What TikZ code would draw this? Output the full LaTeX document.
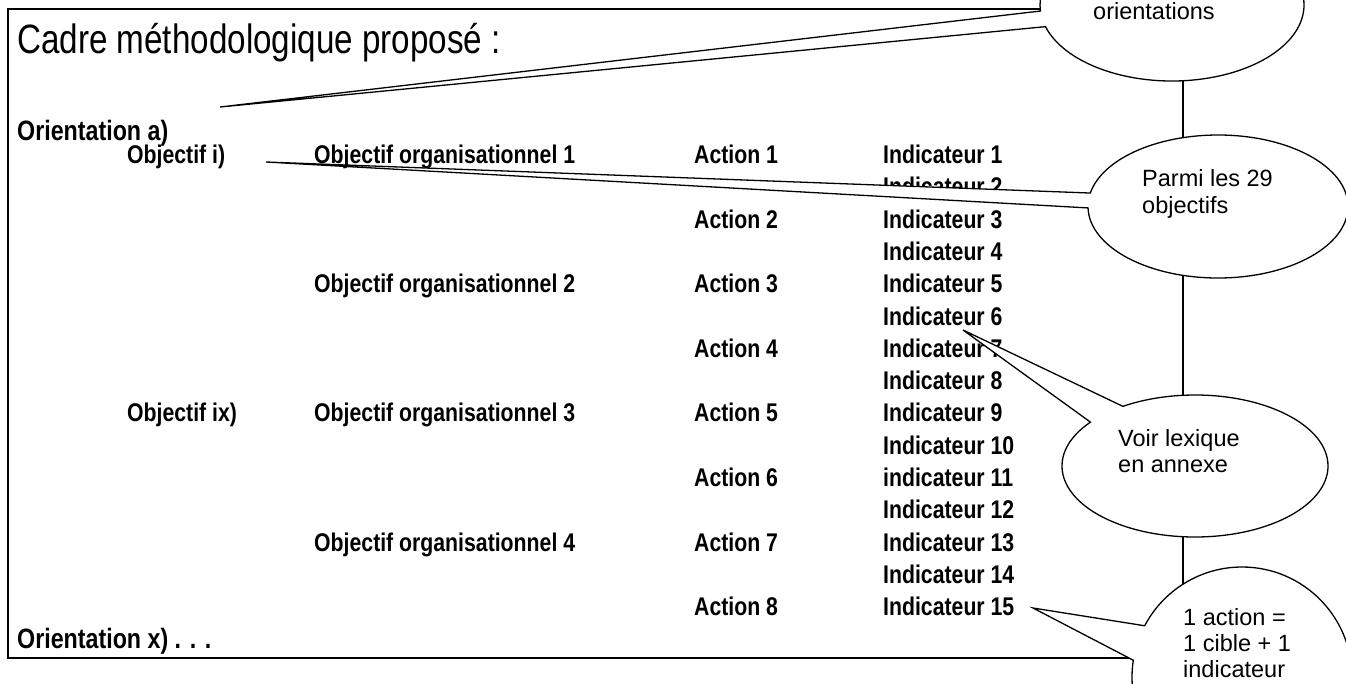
\documentclass[tikz,border=0pt]{standalone}
\usepackage{fontspec}
\setmainfont{Liberation Sans}
\newfontfamily\bodyfont[FakeStretch=0.83]{Liberation Sans}
\newfontfamily\headfont[FakeStretch=0.81]{Liberation Sans}
\usetikzlibrary{shapes.callouts}
\tikzset{
  lbl/.style={font=\bodyfont\bfseries\fontsize{25.6}{30}\selectfont, inner sep=0pt, anchor=base west},
  orient/.style={lbl, font=\bodyfont\bfseries\fontsize{28}{33}\selectfont},
  bubble/.style={ellipse callout, draw=black, line width=1.3pt, fill=white, inner sep=0pt},
  btext/.style={font=\fontsize{23.5}{27}\selectfont, inner sep=0pt, anchor=base west},
  frameline/.style={line width=2pt}
}
\begin{document}
\begin{tikzpicture}[x=1pt,y=-1pt]
\clip (0,0) rectangle (1346,683);
\fill[white] (0,0) rectangle (1346,683);
% frame
\coordinate (fTL) at (8,9);
\coordinate (fBR) at (1183,658);
\draw[frameline] (fTL) rectangle (fBR);
% title
\node[anchor=base west, inner sep=0pt, font=\headfont\fontsize{41}{48}\selectfont] (title) at (17,53) {Cadre méthodologique proposé :};
% orientations
\node[orient] (ora) at (17,140) {Orientation a)};
\node[orient] (orx) at (17,648) {Orientation x) . . .};
% objectifs
\node[lbl] (obi) at (127,163.5) {Objectif i)};
\node[lbl] (obix) at (127,421.9) {Objectif ix)};
% objectifs organisationnels
\node[lbl] (oo1) at (314,163.5) {Objectif organisationnel 1};
\node[lbl] (oo2) at (314,292.7) {Objectif organisationnel 2};
\node[lbl] (oo3) at (314,421.9) {Objectif organisationnel 3};
\node[lbl] (oo4) at (314,551.1) {Objectif organisationnel 4};
% actions
\node[lbl] (a1) at (694,163.5) {Action 1};
\node[lbl] (a2) at (694,228.1) {Action 2};
\node[lbl] (a3) at (694,292.7) {Action 3};
\node[lbl] (a4) at (694,357.3) {Action 4};
\node[lbl] (a5) at (694,421.9) {Action 5};
\node[lbl] (a6) at (694,486.5) {Action 6};
\node[lbl] (a7) at (694,551.1) {Action 7};
\node[lbl] (a8) at (694,615.7) {Action 8};
% indicateurs
\node[lbl] (i1) at (883,163.5) {Indicateur 1};
\node[lbl] (i2) at (883,195.8) {Indicateur 2};
\node[lbl] (i3) at (883,228.1) {Indicateur 3};
\node[lbl] (i4) at (883,260.4) {Indicateur 4};
\node[lbl] (i5) at (883,292.7) {Indicateur 5};
\node[lbl] (i6) at (883,325.0) {Indicateur 6};
\node[lbl] (i7) at (883,357.3) {Indicateur 7};
\node[lbl] (i8) at (883,389.6) {Indicateur 8};
\node[lbl] (i9) at (883,421.9) {Indicateur 9};
\node[lbl] (i10) at (883,454.2) {Indicateur 10};
\node[lbl] (i11) at (883,486.5) {indicateur 11};
\node[lbl] (i12) at (883,518.8) {Indicateur 12};
\node[lbl] (i13) at (883,551.1) {Indicateur 13};
\node[lbl] (i14) at (883,583.4) {Indicateur 14};
\node[lbl] (i15) at (883,615.7) {Indicateur 15};
% callout tips
\coordinate (t1) at (220,107);
\coordinate (t2) at (266,162);
\coordinate (t3) at (963,330);
\coordinate (t4) at (1033,608);
% callouts
\node[bubble, minimum width=264pt, minimum height=152pt, callout absolute pointer={(t1)}, callout pointer arc=12] (c1) at (1172,5) {};
\node[bubble, minimum width=260pt, minimum height=143pt, callout absolute pointer={(t2)}, callout pointer arc=12] (c2) at (1218,206.5) {};
\node[bubble, minimum width=266pt, minimum height=142pt, callout absolute pointer={(t3)}, callout pointer arc=19] (c3) at (1195,466) {};
\node[bubble, minimum width=220pt, minimum height=220pt, callout absolute pointer={(t4)}, callout pointer arc=19] (c4) at (1242,677) {};
% callout texts
\node[btext] (c1a) at (1093,19) {orientations};
\node[btext] (c2a) at (1142,186) {Parmi les 29};
\node[btext] (c2b) at (1142,213) {objectifs};
\node[btext] (c3a) at (1118,446) {Voir lexique};
\node[btext] (c3b) at (1118,472) {en annexe};
\node[btext] (c4a) at (1183,625) {1 action =};
\node[btext] (c4b) at (1183,651) {1 cible + 1};
\node[btext] (c4c) at (1183,677) {indicateur};
\end{tikzpicture}
\end{document}
